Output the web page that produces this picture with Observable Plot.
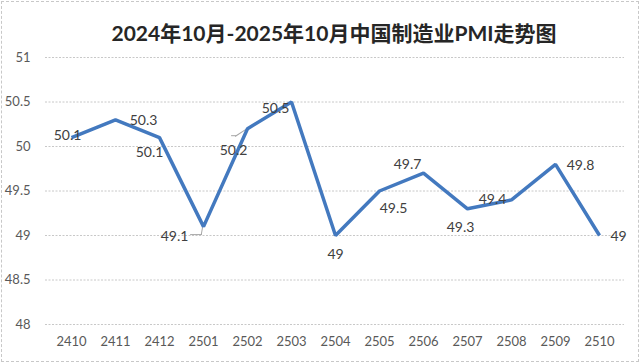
<!DOCTYPE html>
<html>
<head>
<meta charset="utf-8">
<script src="https://cdn.jsdelivr.net/npm/d3@7"></script>
<script src="https://cdn.jsdelivr.net/npm/@observablehq/plot@0.6"></script>
<style>
  html, body { margin: 0; padding: 0; background: #fff; }
  #chart { position: relative; width: 640px; height: 364px; overflow: hidden; background: #fff; }
  #title { height: 48px; box-sizing: border-box; padding-top: 21px; padding-left: 28px; width: 640px;
           text-align: center; font-family: Lato, "Noto Sans CJK SC", sans-serif; font-weight: bold;
           font-size: 21px; line-height: 24px; color: #262626; }
  #frame { position: absolute; left: 1px; top: 1px; width: 636px; height: 359px; border: 1px dashed #c8c8c8; pointer-events: none; }
  svg { display: block; }
</style>
</head>
<body>
<div id="chart">
  <div id="title">2024年10月-2025年10月中国制造业PMI走势图</div>
  <div id="plot"></div>
  <div id="frame"></div>
</div>
<script>
const months = ["2410","2411","2412","2501","2502","2503","2504","2505","2506","2507","2508","2509","2510"];
const pmi = [50.1, 50.3, 50.1, 49.1, 50.2, 50.5, 49.0, 49.5, 49.7, 49.3, 49.4, 49.8, 49.0];
const yTicks = [48, 48.5, 49, 49.5, 50, 50.5, 51];

// label placement (pixel offsets from each point), styling only
const labelDx = [-4, 28, -10, -29, -14, -16, 0, 14, -16, -7, -19, 25, 19];
const labelDy = [-2, 1, 15, 10, 22, 7, 19, 18, -9, 19, 0, 1, 1];

const data = months.map((m, i) => ({month: m, value: pmi[i]}));

const labelMarks = data.map((d, i) => Plot.text([d], {
  x: "month", y: "value", text: d => String(d.value),
  dx: labelDx[i], dy: labelDy[i], fill: "#404040", fontSize: 14, lineAnchor: "middle"
}));

// leader-line shape for displaced labels
const stick = {draw(ctx, l) { ctx.moveTo(0, 0); ctx.lineTo(0, -l); }};
const leaderStyle = {x: "month", y: "value", shape: stick, anchor: "start", stroke: "#a6a6a6", strokeWidth: 1};
const leaders = [
  Plot.vector([data[3]], {...leaderStyle, length: 7, rotate: 190, dx: -1, dy: 1}),
  Plot.vector([data[3]], {...leaderStyle, length: 11, rotate: 270, dx: -2, dy: 8}),
  Plot.vector([data[4]], {...leaderStyle, length: 12, rotate: 237, dx: -2, dy: 1}),
  Plot.vector([data[4]], {...leaderStyle, length: 4, rotate: 270, dx: -12, dy: 7})
];

const chart = Plot.plot({
  width: 640,
  height: 316,
  marginLeft: 45,
  marginRight: 16,
  marginTop: 9,
  marginBottom: 40,
  style: {fontFamily: "Lato, 'Noto Sans CJK SC', sans-serif", fontSize: "13px", color: "#595959", background: "#fff"},
  x: {type: "point", domain: months, padding: 0.5, label: null},
  y: {domain: [48, 51], label: null},
  marks: [
    Plot.gridY(yTicks, {stroke: "#c8c8c8", strokeOpacity: 1, strokeDasharray: "2,1.5"}),
    Plot.axisY(yTicks, {tickSize: 0, tickPadding: 15, fill: "#595959", fontSize: 13, label: null, tickFormat: d => String(d)}),
    Plot.axisX({tickSize: 0, tickPadding: 12, fill: "#595959", fontSize: 13, label: null}),
    ...leaders,
    Plot.line(data, {x: "month", y: "value", stroke: "#4379bf", strokeWidth: 3.5, strokeLinejoin: "miter", strokeLinecap: "butt"}),
    ...labelMarks
  ]
});
document.getElementById("plot").appendChild(chart);
</script>
</body>
</html>
